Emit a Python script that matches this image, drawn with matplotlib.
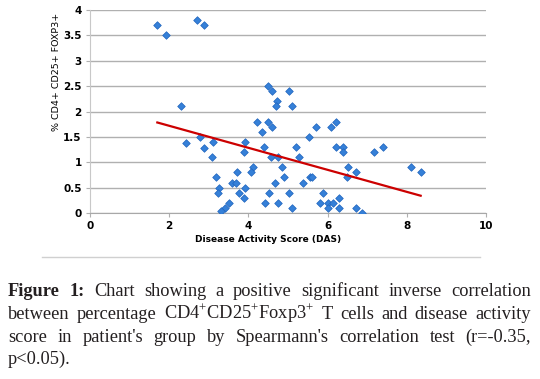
# Correlation of CD4+CD25+Foxp3+ T cells with disease activity score

import numpy as np
import matplotlib.pyplot as plt

plt.rcParams['mathtext.fontset'] = 'custom'
plt.rcParams['mathtext.rm'] = 'Liberation Serif'

# Values (DAS, % CD4+ CD25+ FOXP3+)
das = [1.70, 1.91, 2.69, 2.89, 2.30, 4.50, 4.60, 5.02, 4.73, 4.70, 5.09,
       4.22, 4.50, 6.20, 4.60, 5.70, 6.08, 4.35, 2.77, 5.53,
       2.43, 3.11, 3.91, 2.87, 4.40, 5.20, 6.22, 6.40, 7.40,
       3.88, 6.40, 7.17, 3.09, 4.58, 4.74, 5.27,
       4.12, 4.86, 6.52, 8.10, 3.72, 4.07, 6.72, 8.35,
       3.18, 4.90, 5.55, 5.61, 6.50, 3.59, 3.69, 4.66, 5.37,
       3.27, 3.92, 3.24, 3.77, 4.51, 5.02, 5.89, 3.89, 6.30,
       3.50, 4.42, 4.74, 5.81, 6.00, 6.13,
       3.42, 5.09, 6.01, 6.30, 6.72, 3.31, 6.86]
foxp3 = [3.70, 3.50, 3.80, 3.70, 2.10, 2.50, 2.40, 2.40, 2.20, 2.10, 2.10,
         1.80, 1.80, 1.80, 1.70, 1.70, 1.70, 1.60, 1.50, 1.50,
         1.38, 1.39, 1.39, 1.29, 1.30, 1.30, 1.30, 1.30, 1.30,
         1.20, 1.20, 1.20, 1.10, 1.10, 1.10, 1.10,
         0.90, 0.90, 0.90, 0.90, 0.80, 0.80, 0.80, 0.80,
         0.70, 0.70, 0.70, 0.70, 0.70, 0.60, 0.60, 0.60, 0.60,
         0.50, 0.50, 0.40, 0.40, 0.40, 0.40, 0.40, 0.30, 0.30,
         0.20, 0.20, 0.20, 0.20, 0.20, 0.20,
         0.10, 0.10, 0.10, 0.10, 0.10, 0.03, 0.00]

x_ticks = [0, 2, 4, 6, 8, 10]
y_ticks = [0, 0.5, 1, 1.5, 2, 2.5, 3, 3.5, 4]
y_tick_labels = ['0', '0.5', '1', '1.5', '2', '2.5', '3', '3.5', '4']

caption_lines = [
    [('Figure', 'bold'), ('1:', 'bold'), ('Chart', 'normal'), ('showing', 'normal'),
     ('a', 'normal'), ('positive', 'normal'), ('significant', 'normal'),
     ('inverse', 'normal'), ('correlation', 'normal')],
    [('between', 'normal'), ('percentage', 'normal'),
     ('CD4$^{+}$CD25$^{+}$Foxp3$^{+}$', 'normal'), ('T', 'normal'), ('cells', 'normal'),
     ('and', 'normal'), ('disease', 'normal'), ('activity', 'normal')],
    [('score', 'normal'), ('in', 'normal'), ("patient's", 'normal'), ('group', 'normal'),
     ('by', 'normal'), ("Spearmann's", 'normal'), ('correlation', 'normal'),
     ('test', 'normal'), ('(r=-0.35,', 'normal')],
    [('p<0.05).', 'normal')],
]

fig = plt.figure(figsize=(5.4, 3.79), dpi=100)
ax = fig.add_axes([90 / 540, 1 - 213 / 379, 396 / 540, 203 / 379])

ax.scatter(das, foxp3, marker='D', s=15, color='#3580d8', edgecolors='#1f64bd',
           linewidths=0.5, zorder=3)

# linear trend line
coef = np.polyfit(das, foxp3, 1)
xs = np.array([min(das), max(das)])
ax.plot(xs, np.polyval(coef, xs), color='#cc0000', lw=1.6, zorder=4)

ax.set_xlim(0, 10)
ax.set_ylim(0, 4)
ax.set_xticks(x_ticks)
ax.set_yticks(y_ticks)
ax.set_yticklabels(y_tick_labels)
ax.yaxis.grid(True, color='#b0b0b0', lw=1.0)
ax.set_axisbelow(True)
for s in ['top', 'right']:
    ax.spines[s].set_visible(False)
ax.spines['left'].set_color('#c8c8c8')
ax.spines['bottom'].set_color('#a8a8a8')
ax.tick_params(axis='both', length=3, color='#b0b0b0', labelsize=7.5, pad=3)
for lab in ax.get_xticklabels() + ax.get_yticklabels():
    lab.set_fontweight('bold')

fig.text(56.7 / 540, 1 - 72 / 379, '% CD4+ CD25+ FOXP3+', rotation=90,
         ha='center', va='center', fontsize=6.8)
fig.text(268 / 540, 1 - 239 / 379, 'Disease Activity Score (DAS)',
         ha='center', va='center', fontsize=6.5, fontweight='bold')

# separator line above the caption
fig.add_artist(plt.Line2D([42 / 540, 480 / 540], [1 - 257 / 379, 1 - 257 / 379],
                          color='#d0d0d0', lw=1))

# justified caption text
renderer = fig.canvas.get_renderer()
left, right = 8 / 540, 531 / 540
baselines = [296, 319, 342, 364]
for i, words in enumerate(caption_lines):
    y = 1 - baselines[i] / 379
    texts = [fig.text(0, y, w, fontsize=13.2, fontweight=wt, family='Liberation Serif',
                      color='#231f20', va='baseline') for w, wt in words]
    widths = [t.get_window_extent(renderer).width / fig.bbox.width for t in texts]
    if i < len(caption_lines) - 1:
        gap = (right - left - sum(widths)) / (len(texts) - 1)
    else:
        gap = 0.01
    x = left
    for t, w in zip(texts, widths):
        t.set_x(x)
        x += w + gap

fig.savefig('out.png', dpi=100)
